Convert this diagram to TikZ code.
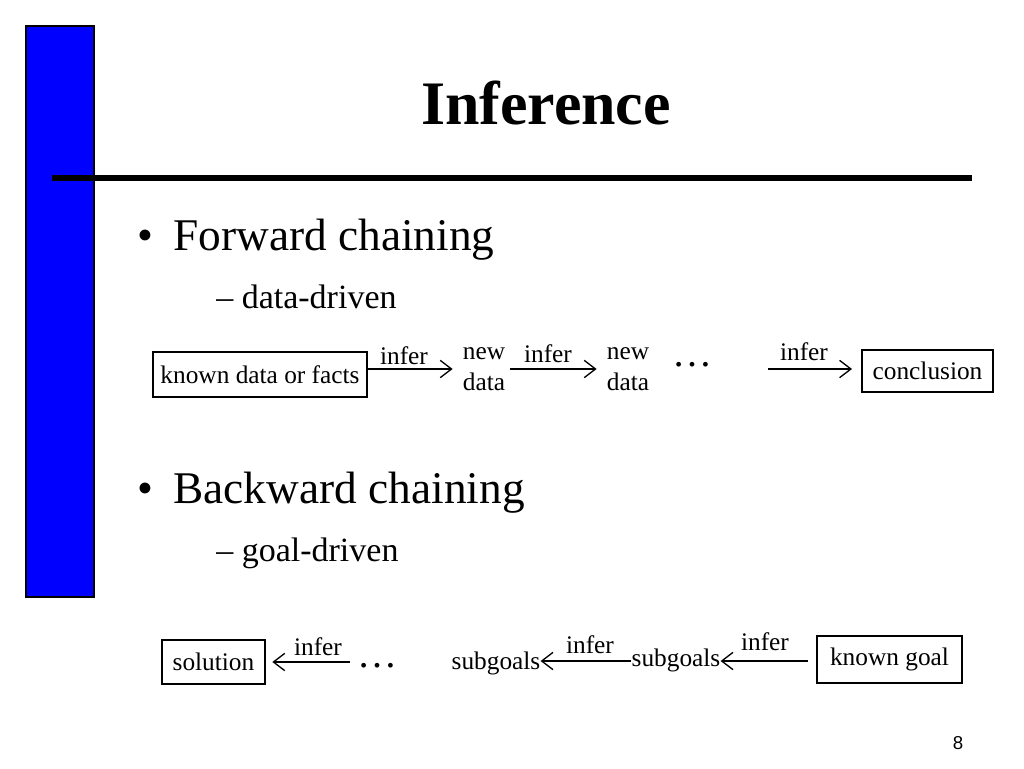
\documentclass[tikz,border=0pt]{standalone}
\usepackage{fontspec}
\setmainfont{Liberation Serif}
\newfontfamily\pagefont{Liberation Sans}
\usetikzlibrary{arrows.meta}
\begin{document}
\begin{tikzpicture}[x=0.75pt,y=-0.75pt,
  lbl/.style={inner sep=0pt,font=\fontsize{19}{23}\selectfont,align=center},
  dots/.style={anchor=base,inner sep=0pt,font=\fontsize{30}{30}\selectfont},
  boxed/.style={draw,line width=1pt,inner sep=0pt,font=\fontsize{19}{23}\selectfont},
  arr/.style={line width=1pt,-{Straight Barb[length=8.5pt,width=13pt,line width=1pt]}},
  bul/.style={anchor=base west,inner sep=0pt,font=\fontsize{34}{40}\selectfont},
  sub/.style={anchor=base west,inner sep=0pt,font=\fontsize{25.5}{30}\selectfont}]
\useasboundingbox[fill=white] (0,0) rectangle (1024,768);
% side bar and rule
\draw[fill=blue,line width=0.8pt] (26,26) rectangle (94,597);
\draw[line width=3.8pt] (52,178) -- (972,178);
% title
\node[anchor=base,inner sep=0pt,font=\fontsize{46.4}{50}\selectfont\bfseries] (title) at (546,124) {Inference};
% bullets
\node[bul] (b1) at (137,250) {\textbullet\hspace{0.45em}Forward chaining};
\node[sub] (s1) at (216,308) {\textendash\ data-driven};
\node[bul] (b2) at (137,503) {\textbullet\hspace{0.45em}Backward chaining};
\node[sub] (s2) at (216,561) {\textendash\ goal-driven};
% forward chain
\node[boxed,minimum width=160.5pt,minimum height=33.75pt] (kd) at (260,374.5) {known data or facts};
\node[lbl] (nd1) at (484,369) {new\\data};
\node[lbl] (nd2) at (628,369) {new\\data};
\node[dots] (fdots) at (692,366) {\dots};
\coordinate (fstart) at (768,369);
\node[boxed,minimum width=98.25pt,minimum height=31.5pt] (concl) at (927.5,371) {conclusion};
\draw[arr] (kd.east |- nd1) -- ([xshift=-7.5pt]nd1.west);
\draw[arr] ([xshift=3.5pt]nd1.east) -- ([xshift=-7.5pt]nd2.west);
\draw[arr] (fstart) -- ([xshift=-7pt]concl.west |- fstart);
\node[lbl] (i1) at (404,356) {infer};
\node[lbl] (i2) at (548,354) {infer};
\node[lbl] (i3) at (804,352) {infer};
% backward chain
\node[boxed,minimum width=77.25pt,minimum height=33pt] (sol) at (213.5,662) {solution};
\node[dots] (bdots) at (377,667) {\dots};
\node[lbl] (sg1) at (496,663) {subgoals};
\node[lbl] (sg2) at (676,660) {subgoals};
\node[boxed,minimum width=108.75pt,minimum height=35.25pt] (kg) at (889.5,659.5) {known goal};
\draw[arr] ([xshift=-5pt]bdots.west |- 0,662) -- ([xshift=5pt]sol.east);
\draw[arr] (sg2.west |- 0,661) -- (sg1.east |- 0,661);
\draw[arr] ([xshift=-6.5pt]kg.west |- 0,661) -- (sg2.east |- 0,661);
\node[lbl] (i4) at (318,647) {infer};
\node[lbl] (i5) at (590,645) {infer};
\node[lbl] (i6) at (765,642) {infer};
% page number
\node[inner sep=0pt,font=\pagefont\fontsize{14}{16}\selectfont] (pg) at (958,743) {8};
\end{tikzpicture}
\end{document}
